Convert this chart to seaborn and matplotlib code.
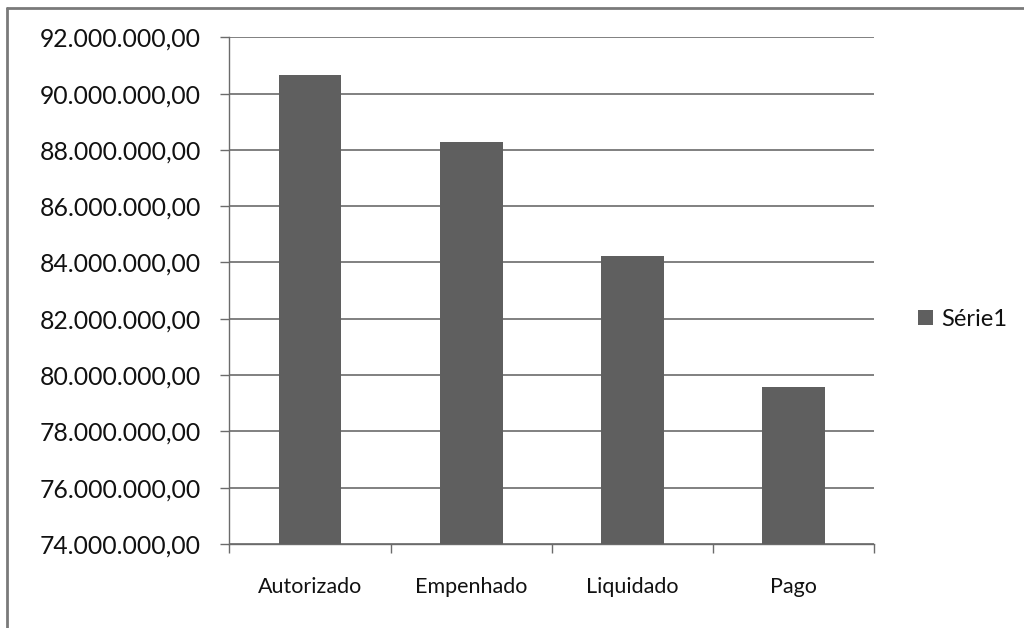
import matplotlib
matplotlib.use("Agg")
import matplotlib.pyplot as plt
import matplotlib.ticker as mticker
from matplotlib.lines import Line2D
from matplotlib.patches import Patch
import seaborn as sns
import pandas as pd

categories = ["Autorizado", "Empenhado", "Liquidado", "Pago"]
values = [90670000, 88290000, 84220000, 79590000]
series_name = "Série1"
y_ticks = list(range(74000000, 92000001, 2000000))

sns.set_theme(style="white")
plt.rcParams["font.family"] = ["Lato", "DejaVu Sans"]

df = pd.DataFrame({"cat": categories, "val": values})

fig = plt.figure(figsize=(10.24, 6.28), dpi=100)
ax = fig.add_axes([0.224, 0.1338, 0.63, 0.8068])

bar_color = "#5f5f5f"
grid_color = "#6b6b6b"

sns.barplot(data=df, x="cat", y="val", color=bar_color, width=0.39,
            saturation=1, ax=ax, zorder=3)
for p in ax.patches:
    p.set_edgecolor("none")

ax.set_ylim(74000000, 92000000)
ax.set_xlim(-0.5, len(categories) - 0.5)
ax.set_yticks(y_ticks)

def br_fmt(v, pos):
    s = f"{v:,.2f}"
    return s.replace(",", "X").replace(".", ",").replace("X", ".")

ax.yaxis.set_major_formatter(mticker.FuncFormatter(br_fmt))
ax.yaxis.grid(True, color=grid_color, linewidth=1.2, zorder=0)
ax.set_axisbelow(True)
ax.set_xlabel("")
ax.set_ylabel("")

for side in ["top", "right"]:
    ax.spines[side].set_visible(False)
for side in ["left", "bottom"]:
    ax.spines[side].set_visible(True)
    ax.spines[side].set_color(grid_color)
    ax.spines[side].set_linewidth(1.0)

ax.tick_params(axis="y", which="major", left=True, length=6.5, width=1.0,
               color=grid_color, pad=14, labelsize=17.8, labelcolor="#111111")
ax.set_xticks([i - 0.5 for i in range(len(categories) + 1)], minor=True)
ax.tick_params(axis="x", which="minor", bottom=True, length=6.5, width=1.0,
               color=grid_color)
ax.tick_params(axis="x", which="major", bottom=False, length=0, pad=24,
               labelsize=15.5, labelcolor="#111111")

handle = Patch(facecolor=bar_color, edgecolor="none")
fig.legend([handle], [series_name], loc="center left",
           bbox_to_anchor=(0.876, 0.492), frameon=False, fontsize=17,
           handlelength=0.62, handleheight=0.62, handletextpad=0.35,
           labelcolor="#111111")

# chart frame border (left and top edges)
fig.add_artist(Line2D([7 / 1024, 7 / 1024], [0, 1 - 8 / 628],
                      transform=fig.transFigure, color="#7a7a7a", linewidth=2))
fig.add_artist(Line2D([7 / 1024, 1], [1 - 8 / 628, 1 - 8 / 628],
                      transform=fig.transFigure, color="#7a7a7a", linewidth=2))

fig.savefig("out.png", dpi=100, facecolor="white")
